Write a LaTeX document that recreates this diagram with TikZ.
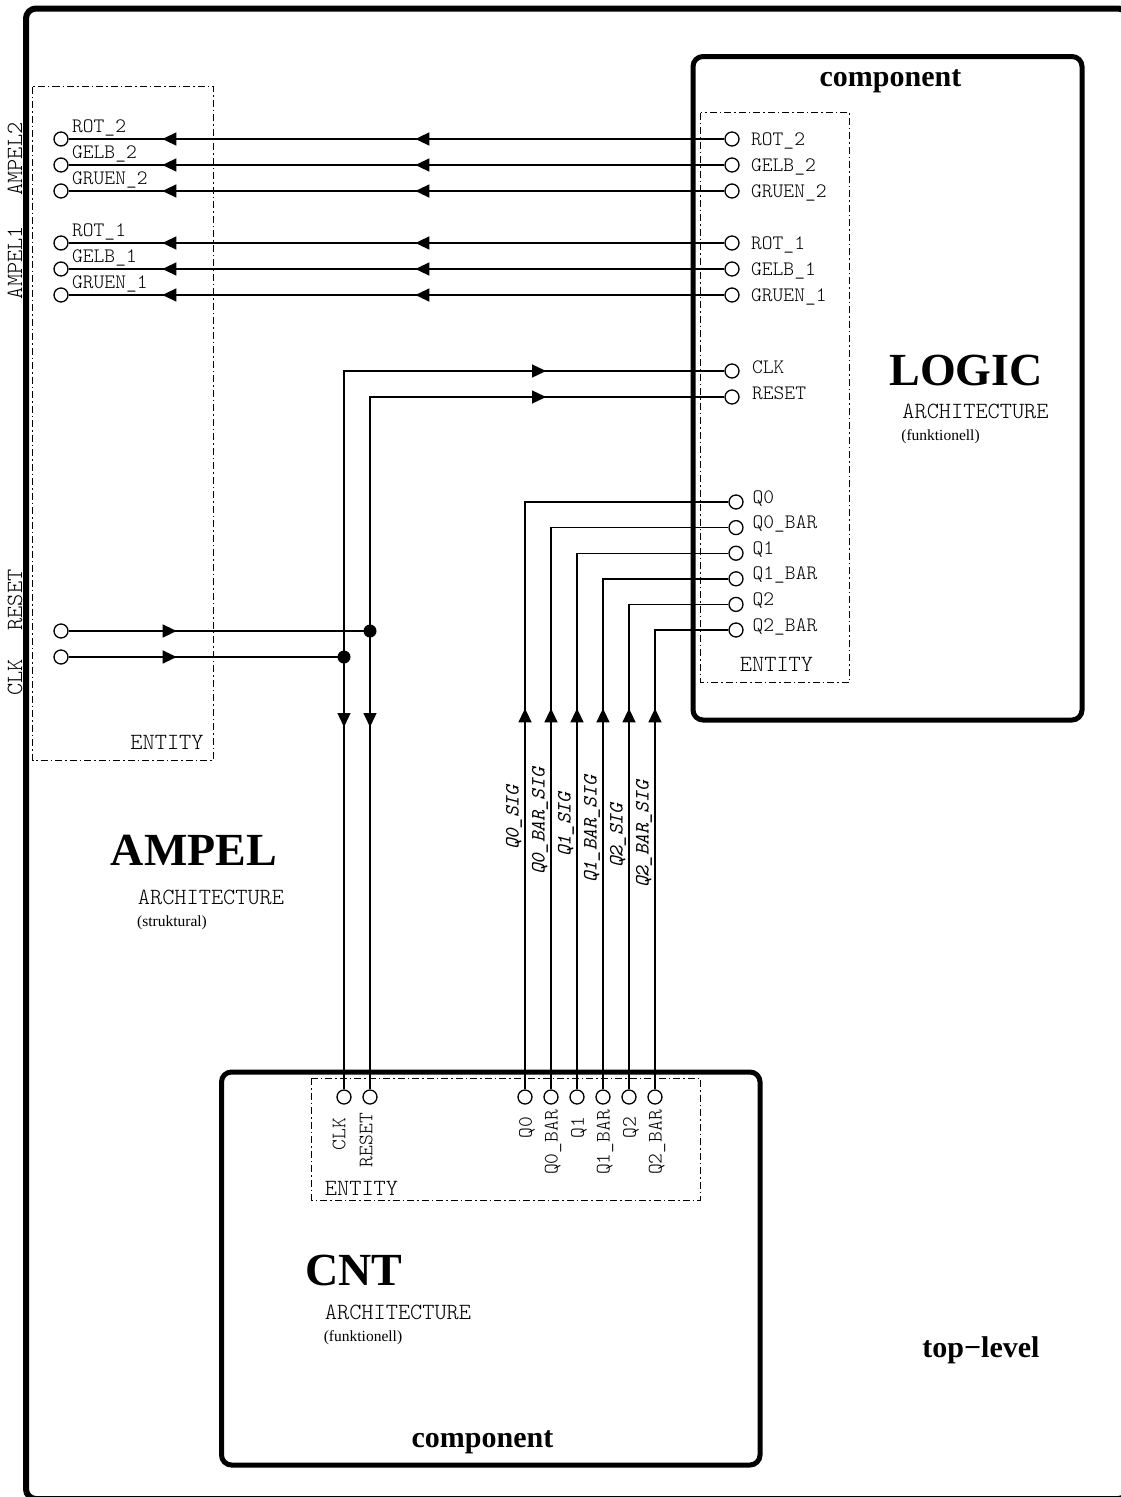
\documentclass[tikz,border=0pt]{standalone}
\usepackage{fontspec}
\setmainfont{Liberation Serif}
\newfontfamily\lightmono{Latin Modern Mono Light}
\usetikzlibrary{arrows.meta,decorations.markings}

\newcommand{\portfont}{\lightmono\fontsize{20.5}{22}\selectfont}
\newcommand{\tagfont}{\lightmono\fontsize{23.2}{25}\selectfont}
\newcommand{\sigfont}{\ttfamily\itshape\fontsize{20.3}{22}\selectfont}
\newcommand{\headfont}{\bfseries\fontsize{46}{50}\selectfont}
\newcommand{\compfont}{\bfseries\fontsize{30}{34}\selectfont}
\newcommand{\notefont}{\fontsize{15.5}{18}\selectfont}

\tikzset{
  wire/.style={line width=1.4pt},
  port/.style={draw, circle, line width=1.3pt, minimum size=14pt, inner sep=0pt, fill=white},
  junc/.style={fill, circle, minimum size=13pt, inner sep=0pt},
  compbox/.style={draw, line width=5pt, rounded corners=10pt},
  entbox/.style={draw, line width=0.9pt, dash pattern=on 7pt off 3pt on 1.5pt off 3pt},
  arrat/.style={postaction={decorate}, decoration={markings,
      mark=at position #1 with {\arrow{Triangle[length=14pt,width=13pt]}}}},
  arrtwo/.style 2 args={postaction={decorate}, decoration={markings,
      mark=at position #1 with {\arrow{Triangle[length=14pt,width=13pt]}},
      mark=at position #2 with {\arrow{Triangle[length=14pt,width=13pt]}}}},
  txt/.style={inner sep=0pt}
}

\begin{document}
\begin{tikzpicture}[x=1pt, y=-1pt]
  \useasboundingbox (0,0) rectangle (1121,1497);
  \draw[compbox, line width=6pt] (26,8.5) rectangle (1128,1499);
  \draw[compbox] (693,56.5) rectangle (1082,720);
  \draw[compbox] (221.5,1072) rectangle (760,1465);
  \draw[entbox] (32.5,86.5) rectangle (213.5,760);
  \draw[entbox] (700.5,112.5) rectangle (849.5,682);
  \draw[entbox] (311.5,1078) rectangle (700,1200);

  \foreach \nm/\lab/\y in {rtwo/ROT\_2/139, gtwo/GELB\_2/165, utwo/GRUEN\_2/191,
                           rone/ROT\_1/243, gone/GELB\_1/269, uone/GRUEN\_1/295} {
    \node[port] (l-\nm) at (732,\y) {};
    \node[port] (a-\nm) at (61,\y) {};
    \node[txt, font=\portfont, anchor=base west] (lt-\nm) at (751,\y+6.5) {\lab};
    \node[txt, font=\portfont, anchor=base west] (at-\nm) at (72,\y-6.3) {\lab};
    \draw[wire, arrtwo={309pt}{562pt}] (l-\nm) -- (a-\nm);
  }

  \node[port] (a-clk) at (61,657) {};
  \node[port] (a-rst) at (61,631) {};
  \node[port] (l-clk) at (732,371) {};
  \node[port] (l-rst) at (732,397) {};
  \node[port] (c-clk) at (344,1097) {};
  \node[port] (c-rst) at (370,1097) {};
  \node[junc] (j-clk) at (344,657) {};
  \node[junc] (j-rst) at (370,631) {};
  \node[txt, font=\portfont, anchor=base west] (lt-clk) at (752,373) {CLK};
  \node[txt, font=\portfont, anchor=base west] (lt-rst) at (752,399) {RESET};
  \draw[wire, arrat=108pt] (a-clk) -- (j-clk.center);
  \draw[wire, arrat=108pt] (a-rst) -- (j-rst.center);
  \draw[wire, arrat=488pt] (j-clk.center) |- (l-clk);
  \draw[wire, arrat=410pt] (j-rst.center) |- (l-rst);
  \draw[wire, arrat=70pt] (j-clk.center) -- (c-clk);
  \draw[wire, arrat=96pt] (j-rst.center) -- (c-rst);
  \node[txt, font=\portfont, rotate=90, anchor=east] (ct-clk) at (339,1118) {CLK};
  \node[txt, font=\portfont, rotate=90, anchor=east] (ct-rst) at (366,1113) {RESET};

  \foreach \nm/\lab/\sig/\k/\sy/\cy in {qa/Q0/Q0\_SIG/0/850/1117, qb/Q0\_BAR/Q0\_BAR\_SIG/1/875/1110,
      qc/Q1/Q1\_SIG/2/857/1117, qd/Q1\_BAR/Q1\_BAR\_SIG/3/883/1110,
      qe/Q2/Q2\_SIG/4/868/1117, qf/Q2\_BAR/Q2\_BAR\_SIG/5/888/1110} {
    \node[port] (l-\nm) at (736,502+25.6*\k) {};
    \node[port] (c-\nm) at (525+26*\k,1097) {};
    \node[txt, font=\portfont, anchor=base west] (lt-\nm) at (752.5,503+25.6*\k) {\lab};
    \node[txt, font=\portfont, rotate=90, anchor=east] (ct-\nm) at (527+26*\k,\cy) {\lab};
    \node[txt, font=\sigfont, rotate=90, anchor=west] (sig-\nm) at (514+26*\k,\sy) {\sig};
    \draw[wire, arrat=381pt] (c-\nm) |- (l-\nm);
  }

  \node[txt, font=\tagfont, rotate=90] (nm-atwo) at (15,159) {AMPEL2};
  \node[txt, font=\tagfont, rotate=90] (nm-aone) at (15,262.5) {AMPEL1};
  \node[txt, font=\tagfont, rotate=90] (nm-rst) at (15,600) {RESET};
  \node[txt, font=\tagfont, rotate=90] (nm-clk) at (15,677.5) {CLK};

  \node[txt, font=\tagfont] (ent-logic) at (776.5,664) {ENTITY};
  \node[txt, font=\tagfont] (ent-ampel) at (167,742.5) {ENTITY};
  \node[txt, font=\tagfont] (ent-cnt) at (361.5,1188) {ENTITY};

  \node[txt, font=\compfont, anchor=base] (comp-logic) at (890.5,86) {component};
  \node[txt, font=\compfont, anchor=base] (comp-cnt) at (482.5,1447) {component};
  \node[txt, font=\compfont, anchor=base] (toplevel) at (981,1357) {top−level};

  \node[txt, font=\headfont] (logic) at (966,370) {LOGIC};
  \node[txt, font=\tagfont] (arch-logic) at (975.5,411) {ARCHITECTURE};
  \node[txt, font=\notefont] (kind-logic) at (940.5,437) {(funktionell)};

  \node[txt, font=\headfont] (ampel) at (194,850) {AMPEL};
  \node[txt, font=\tagfont] (arch-ampel) at (211,897) {ARCHITECTURE};
  \node[txt, font=\notefont] (kind-ampel) at (172,923) {(struktural)};

  \node[txt, font=\headfont] (cnt) at (354,1270) {CNT};
  \node[txt, font=\tagfont] (arch-cnt) at (398,1312) {ARCHITECTURE};
  \node[txt, font=\notefont] (kind-cnt) at (363,1338) {(funktionell)};
\end{tikzpicture}
\end{document}
